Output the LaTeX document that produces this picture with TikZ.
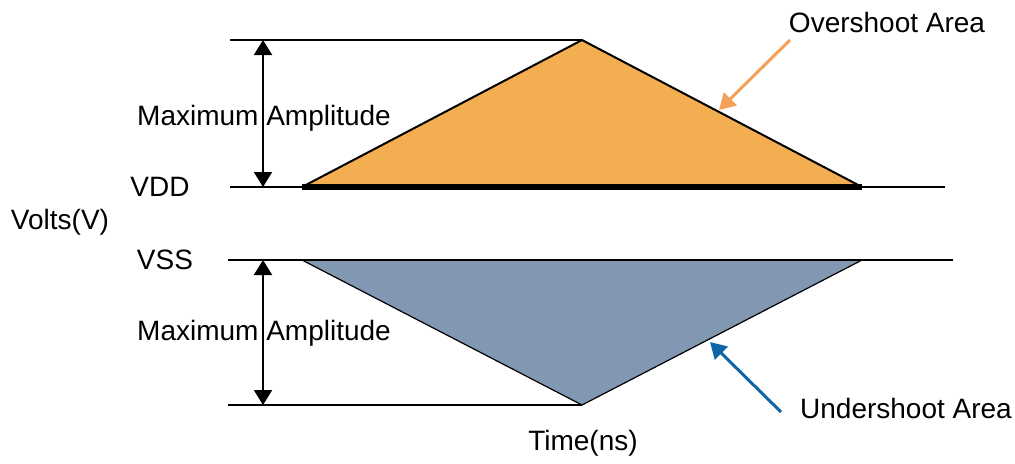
\documentclass[tikz,border=0pt]{standalone}
\usepackage{fontspec}
\setmainfont{Liberation Sans}
\usetikzlibrary{arrows.meta}
\definecolor{overfill}{HTML}{F4AE52}
\definecolor{underfill}{HTML}{8297B2}
\definecolor{overarrow}{HTML}{F5A05A}
\definecolor{underarrow}{HTML}{0E66A6}
\tikzset{
  lbl/.style={font=\fontsize{14}{16}\selectfont, inner sep=0pt},
  amp/.style={line width=1pt, {Triangle[length=7.5pt,width=9pt]}-{Triangle[length=7.5pt,width=9pt]}},
  callout/.style={line width=1.5pt, -{Triangle[length=8pt,width=9pt]}}
}
\begin{document}
\begin{tikzpicture}[x=0.5pt,y=-0.5pt]
        \useasboundingbox (0,0) rectangle (1015,463);
        \coordinate (otl) at (230,40);
        \coordinate (opeak) at (582,40);
        \coordinate (oleft) at (302,187);
        \coordinate (oright) at (862,187);
        \coordinate (vddl) at (230,187);
        \coordinate (vddr) at (945,187);
        \coordinate (vssl) at (228,260);
        \coordinate (vssr) at (953,260);
        \coordinate (uleft) at (302,260);
        \coordinate (uright) at (862,260);
        \coordinate (upeak) at (582,405);
        \coordinate (ubl) at (228,405);
        \coordinate (atop) at (263,40);
        \coordinate (abot) at (263,187);
        \coordinate (btop) at (263,260);
        \coordinate (bbot) at (263,405);
        \draw[fill=overfill,line width=1pt,line join=round] (oleft) -- (opeak) -- (oright) -- cycle;
        \fill[underfill] (uleft) -- (upeak) -- (uright) -- cycle;
        \draw[line width=0.6pt] (uleft) -- (upeak) -- (uright);
        \draw[line width=0.6pt] (otl) -- (opeak);
        \draw[line width=0.6pt] (ubl) -- (upeak);
        \draw[line width=1.3pt] (vddl) -- (vddr);
        \draw[line width=2.8pt] (oleft) -- (oright);
        \draw[line width=1.1pt] (vssl) -- (vssr);
        \draw[amp] (atop) -- (abot);
        \draw[amp] (btop) -- (bbot);
        \node[lbl] (amptop) at (264,118) {Maximum Amplitude};
        \node[lbl] (ampbot) at (264,333) {Maximum Amplitude};
        \node[lbl] (vdd) at (160,187) {VDD};
        \node[lbl] (vss) at (165,260) {VSS};
        \node[lbl] (volts) at (60,222) {Volts(V)};
        \node[lbl] (time) at (583,443) {Time(ns)};
        \node[lbl] (over) at (887,22) {Overshoot Area};
        \node[lbl] (under) at (906,408) {Undershoot Area};
        \coordinate (overtip) at (719,110);
        \coordinate (undertip) at (710,342);
        \draw[callout,overarrow] (790,40) -- (overtip);
        \draw[callout,underarrow] (781,412) -- (undertip);
      \end{tikzpicture}
\end{document}
